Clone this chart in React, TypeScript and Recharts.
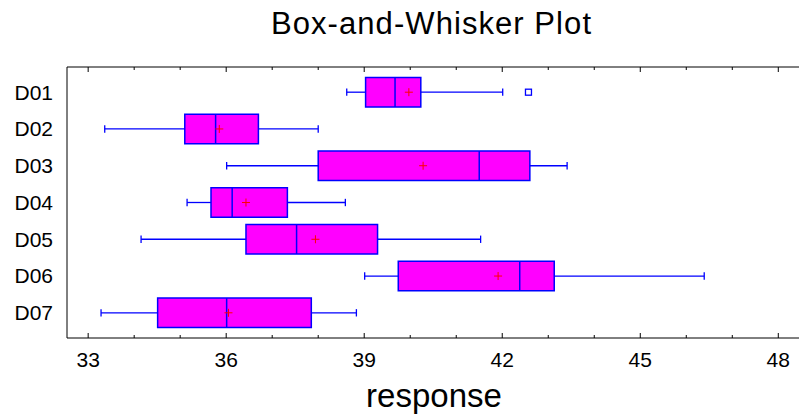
import { ReferenceArea, ReferenceLine, Scatter, ScatterChart, XAxis, YAxis } from "recharts";

const groups = ["D01", "D02", "D03", "D04", "D05", "D06", "D07"];
const whiskerLow = [38.62, 33.36, 36.01, 35.15, 34.15, 39.01, 33.28];
const q1 = [39.03, 35.1, 38.0, 35.67, 36.43, 39.74, 34.51];
const median = [39.67, 35.77, 41.5, 36.13, 37.53, 42.38, 36.01];
const q3 = [40.23, 36.7, 42.6, 37.33, 39.29, 43.13, 37.85];
const whiskerHigh = [42.01, 38.0, 43.41, 38.59, 41.53, 46.39, 38.83];
const means = [39.97, 35.85, 40.28, 36.43, 37.94, 41.91, 36.05];
const outlierGroups = ["D01"];
const outlierValues = [42.57];
const xTicks = [33, 34, 35, 36, 37, 38, 39, 40, 41, 42, 43, 44, 45, 46, 47, 48];

const FONT = '"Liberation Sans", Arial, sans-serif';
const BLUE = "#0000ff";
const BOX_HALF = 0.4;
const CAP_HALF = 0.1;
const X_DOMAIN = [32.54, 48.45];

const rows = groups.map((name, i) => i + 1);
const meanPoints = means.map((m, i) => ({ x: m, y: i + 1 }));
const outlierPoints = outlierValues.map((v, i) => ({ x: v, y: groups.indexOf(outlierGroups[i]) + 1 }));

const isMajor = (v: number) => (v - 33) % 3 === 0;

function BottomTick({ x, y, payload }: any) {
  const major = isMajor(payload.value);
  return (
    <g>
      <line x1={x} x2={x} y1={y} y2={y - (major ? 5 : 3)} stroke="#000" />
      {major && (
        <text x={x} y={y + 29} textAnchor="middle" fontSize={21} fontFamily={FONT} fill="#000">
          {payload.value}
        </text>
      )}
    </g>
  );
}

function TopTick({ x, y, payload }: any) {
  const major = isMajor(payload.value);
  return <line x1={x} x2={x} y1={y} y2={y + (major ? 5 : 3)} stroke="#000" />;
}

function MeanMark({ cx, cy }: any) {
  return (
    <g>
      <line x1={cx - 4} x2={cx + 4} y1={cy} y2={cy} stroke="#ff0000" />
      <line x1={cx} x2={cx} y1={cy - 4} y2={cy + 4} stroke="#ff0000" />
    </g>
  );
}

function OutlierMark({ cx, cy }: any) {
  return <rect x={cx - 3} y={cy - 3} width={6} height={6} fill="none" stroke={BLUE} strokeWidth={1.3} />;
}

export default function App() {
  return (
    <div style={{ position: "absolute", left: 0, top: 0, width: 799, height: 417 }}>
      <ScatterChart width={799} height={417} margin={{ top: 66, right: 0, bottom: 0, left: 0 }}>
        <XAxis
          dataKey="x"
          type="number"
          domain={X_DOMAIN}
          allowDataOverflow
          ticks={xTicks}
          interval={0}
          height={79}
          tickSize={0}
          tickMargin={0}
          tickLine={false}
          axisLine={{ stroke: "#000" }}
          tick={<BottomTick />}
        />
        <XAxis
          xAxisId="top"
          dataKey="x"
          orientation="top"
          type="number"
          domain={X_DOMAIN}
          allowDataOverflow
          ticks={xTicks}
          interval={0}
          height={1}
          tickSize={0}
          tickMargin={0}
          tickLine={false}
          axisLine={{ stroke: "#000" }}
          tick={<TopTick />}
        />
        <YAxis
          dataKey="y"
          type="number"
          domain={[0.315, 7.685]}
          allowDataOverflow
          reversed
          ticks={rows}
          interval={0}
          width={67}
          tickSize={0}
          tickMargin={14}
          tickLine={false}
          axisLine={{ stroke: "#000" }}
          tickFormatter={(v: number) => groups[v - 1]}
          tick={{ fontSize: 21, fill: "#000", fontFamily: FONT }}
        />
        {rows.map((r, i) => (
          <ReferenceLine
            key={`wl${i}`}
            segment={[{ x: whiskerLow[i], y: r }, { x: q1[i], y: r }]}
            stroke={BLUE}
            strokeWidth={1.3}
          />
        ))}
        {rows.map((r, i) => (
          <ReferenceLine
            key={`wh${i}`}
            segment={[{ x: q3[i], y: r }, { x: whiskerHigh[i], y: r }]}
            stroke={BLUE}
            strokeWidth={1.3}
          />
        ))}
        {rows.map((r, i) => (
          <ReferenceLine
            key={`cl${i}`}
            segment={[{ x: whiskerLow[i], y: r - CAP_HALF }, { x: whiskerLow[i], y: r + CAP_HALF }]}
            stroke={BLUE}
            strokeWidth={1.3}
          />
        ))}
        {rows.map((r, i) => (
          <ReferenceLine
            key={`ch${i}`}
            segment={[{ x: whiskerHigh[i], y: r - CAP_HALF }, { x: whiskerHigh[i], y: r + CAP_HALF }]}
            stroke={BLUE}
            strokeWidth={1.3}
          />
        ))}
        {rows.map((r, i) => (
          <ReferenceArea
            key={`box${i}`}
            x1={q1[i]}
            x2={q3[i]}
            y1={r - BOX_HALF}
            y2={r + BOX_HALF}
            fill="#ff00ff"
            fillOpacity={1}
            stroke={BLUE}
            strokeWidth={1.5}
          />
        ))}
        {rows.map((r, i) => (
          <ReferenceLine
            key={`med${i}`}
            segment={[{ x: median[i], y: r - BOX_HALF }, { x: median[i], y: r + BOX_HALF }]}
            stroke={BLUE}
            strokeWidth={1.5}
          />
        ))}
        <Scatter data={meanPoints} shape={<MeanMark />} isAnimationActive={false} />
        <Scatter xAxisId="top" data={outlierPoints} shape={<OutlierMark />} isAnimationActive={false} />
      </ScatterChart>
      <svg width={799} height={417} style={{ position: "absolute", left: 0, top: 0, pointerEvents: "none" }}>
        <text x={431} y={33.5} textAnchor="middle" fontSize={31} fontFamily={FONT} fill="#000" textLength={320} lengthAdjust="spacing">
          Box-and-Whisker Plot
        </text>
        <text x={434} y={406.5} textAnchor="middle" fontSize={33} fontFamily={FONT} fill="#000">
          response
        </text>
      </svg>
    </div>
  );
}
